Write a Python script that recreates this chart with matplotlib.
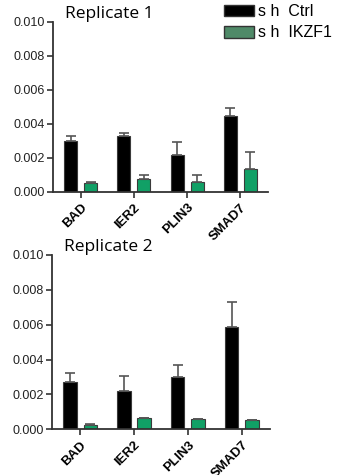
import matplotlib
matplotlib.use("Agg")
import matplotlib.pyplot as plt
from matplotlib.patches import Patch
import numpy as np

genes = ["BAD", "IER2", "PLIN3", "SMAD7"]
series_names = ["s h  Ctrl", "s h  IKZF1"]

rep1_ctrl = [0.00298, 0.00327, 0.00214, 0.00445]
rep1_ctrl_err = [0.00029, 0.00020, 0.00076, 0.00049]
rep1_ikzf1 = [0.00051, 0.00073, 0.00057, 0.00135]
rep1_ikzf1_err = [0.00008, 0.00027, 0.00041, 0.00096]

rep2_ctrl = [0.00272, 0.00220, 0.00302, 0.00585]
rep2_ctrl_err = [0.00053, 0.00086, 0.00069, 0.00143]
rep2_ikzf1 = [0.00025, 0.00065, 0.00059, 0.00055]
rep2_ikzf1_err = [0.00004, 0.0, 0.0, 0.0]

titles = ["Replicate 1", "Replicate 2"]
yticks = [0.0, 0.002, 0.004, 0.006, 0.008, 0.010]

plt.rcParams['font.family'] = ['Liberation Sans', 'DejaVu Sans']

fig = plt.figure(figsize=(3.4, 4.75), dpi=100)
ax1 = fig.add_axes([0.156, 0.5964, 0.632, 0.358])
ax2 = fig.add_axes([0.153, 0.0962, 0.641, 0.367])

black = "#000000"
green = "#11a066"
edge = "#3a3a3a"
errc = "#555555"

x = np.arange(len(genes))
w = 0.245
off = 0.187

data = [(rep1_ctrl, rep1_ctrl_err, rep1_ikzf1, rep1_ikzf1_err),
        (rep2_ctrl, rep2_ctrl_err, rep2_ikzf1, rep2_ikzf1_err)]

for ax, (c, ce, k, ke), title in zip([ax1, ax2], data, titles):
    ekw = dict(ecolor=errc, elinewidth=1.2, capsize=3.5, capthick=1.2)
    ax.bar(x - off, c, w, color=black, edgecolor=edge, linewidth=0.8,
           yerr=[np.zeros(4), ce], error_kw=ekw, zorder=2)
    ax.bar(x + off, k, w, color=green, edgecolor=edge, linewidth=0.8,
           yerr=[np.zeros(4), ke], error_kw=ekw, zorder=2)
    ax.set_xlim(-0.52, 3.52)
    ax.set_ylim(0, 0.010)
    ax.set_yticks(yticks)
    ax.set_yticklabels([f"{v:.3f}" for v in yticks], fontsize=9, color="#222222")
    ax.set_xticks(x)
    ax.set_xticklabels(genes, rotation=45, ha='right', rotation_mode='anchor',
                       fontsize=9.5, fontweight='bold')
    for s in ['top', 'right']:
        ax.spines[s].set_visible(False)
    for s in ['left', 'bottom']:
        ax.spines[s].set_color("#333333")
        ax.spines[s].set_linewidth(1.3)
    ax.tick_params(axis='both', direction='out', length=4, width=1.2, color="#333333", pad=2)
    ax.tick_params(axis='x', pad=3)
    ax.text(0.055, 1.0, title, transform=ax.transAxes, fontsize=12.5,
            family=['Open Sans', 'DejaVu Sans'], va='bottom', ha='left')

handles = [Patch(facecolor="#000000", edgecolor="#333333", label=series_names[0]),
           Patch(facecolor="#4f8a68", edgecolor="#333333", label=series_names[1])]
fig.legend(handles=handles, loc='upper left', bbox_to_anchor=(0.64, 1.005),
           frameon=False, fontsize=11.5, handlelength=1.85, handleheight=0.75,
           handletextpad=0.3, labelspacing=0.4, borderaxespad=0)

fig.savefig("out.png", dpi=100)
